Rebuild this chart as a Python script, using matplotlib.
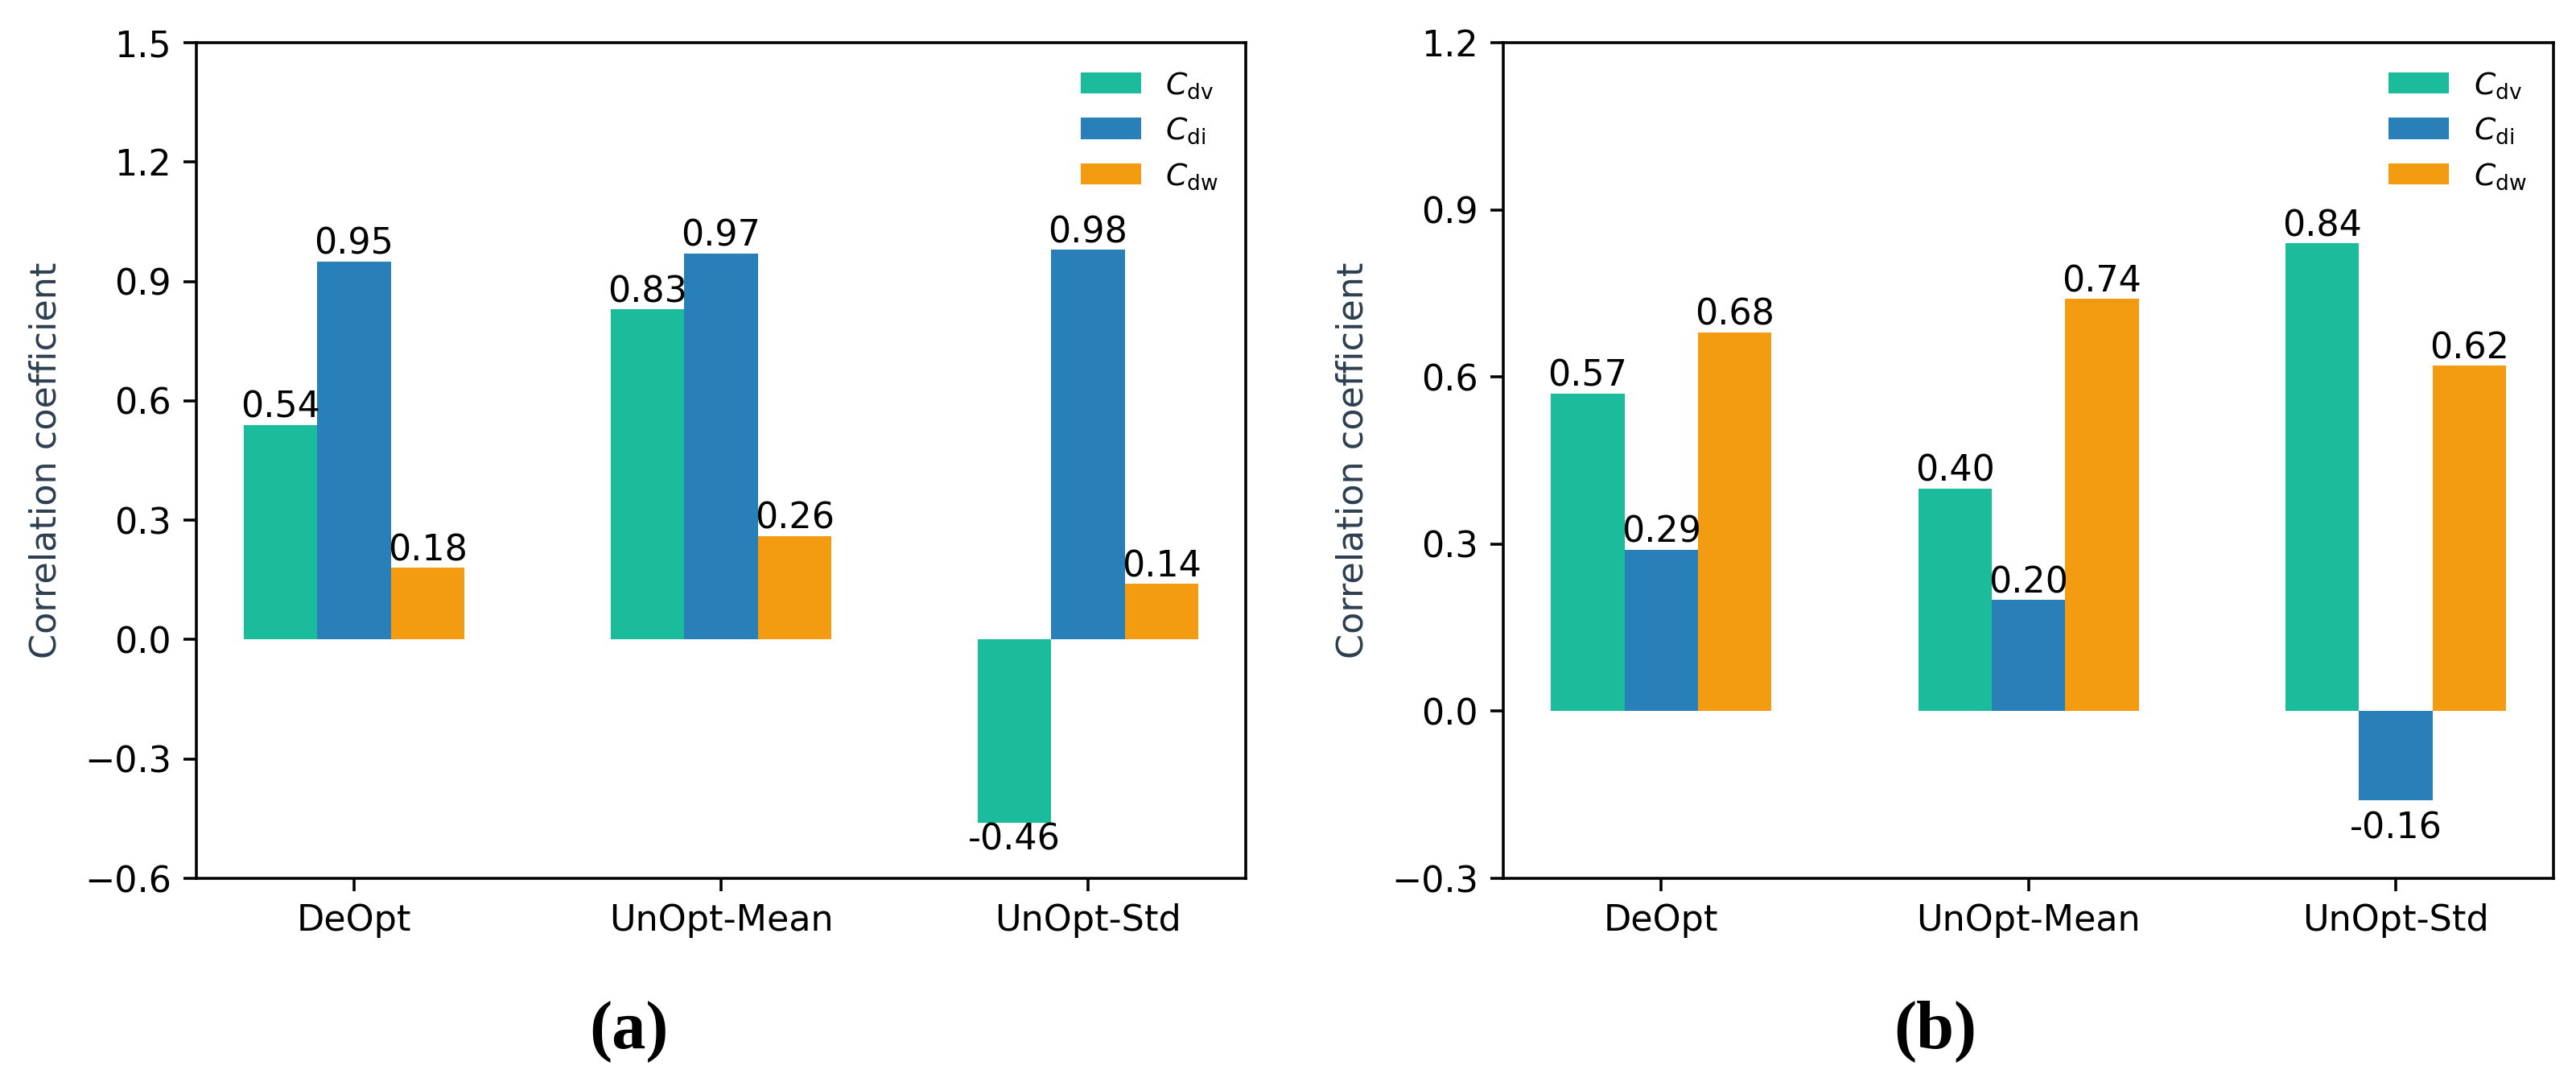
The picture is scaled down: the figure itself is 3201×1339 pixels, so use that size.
"""Correlation coefficients of C_dv, C_di and C_dw for the two cases."""

import matplotlib
matplotlib.use('Agg')
import matplotlib.pyplot as plt
import numpy as np

# Data
categories = ['DeOpt', 'UnOpt-Mean', 'UnOpt-Std']
series_names = [r'$C_{\mathrm{dv}}$', r'$C_{\mathrm{di}}$', r'$C_{\mathrm{dw}}$']

a_dv = [0.54, 0.83, -0.46]
a_di = [0.95, 0.97, 0.98]
a_dw = [0.18, 0.26, 0.14]

b_dv = [0.57, 0.40, 0.84]
b_di = [0.29, 0.20, -0.16]
b_dw = [0.68, 0.74, 0.62]

colors = ['#1abc9c', '#2980b9', '#f39c12']

fig = plt.figure(figsize=(3201 / 320, 1339 / 320), dpi=320)
ax_a = fig.add_axes([0.0762, 0.1852, 0.4074, 0.7752])
ax_b = fig.add_axes([0.5836, 0.1852, 0.4077, 0.7752])


def draw_panel(ax, values, ylim, neg_pad=0):
    x = np.arange(len(categories))
    width = 0.2
    for i, (vals, name, col) in enumerate(zip(values, series_names, colors)):
        bars = ax.bar(x + (i - 1) * width, vals, width, color=col, label=name)
        # value labels: above positive bars, below negative ones
        for b, v in zip(bars, vals):
            ax.annotate('%.2f' % v, (b.get_x() + b.get_width() / 2, v),
                        xytext=(0, 0 if v >= 0 else -neg_pad), textcoords='offset points',
                        ha='center', va='bottom' if v >= 0 else 'top', fontsize=10)
    ax.set_xticks(x)
    ax.set_xticklabels(categories)
    ax.set_ylim(*ylim)
    ax.set_yticks(np.arange(ylim[0], ylim[1] + 0.01, 0.3))
    ax.set_ylabel('Correlation coefficient', color='#2c3e50', fontsize=10, labelpad=6)
    ax.legend(loc='upper right', frameon=False, fontsize=8.5)


draw_panel(ax_a, [a_dv, a_di, a_dw], (-0.6, 1.5))
draw_panel(ax_b, [b_dv, b_di, b_dw], (-0.3, 1.2), neg_pad=3)

# sub-figure captions
fig.text(781 / 3201, 1 - 1281 / 1339, '(a)', ha='center', va='center',
         fontsize=19, fontweight='bold', family='Liberation Serif')
fig.text(2405 / 3201, 1 - 1281 / 1339, '(b)', ha='center', va='center',
         fontsize=19, fontweight='bold', family='Liberation Serif')

fig.savefig('out.png', dpi=320)
